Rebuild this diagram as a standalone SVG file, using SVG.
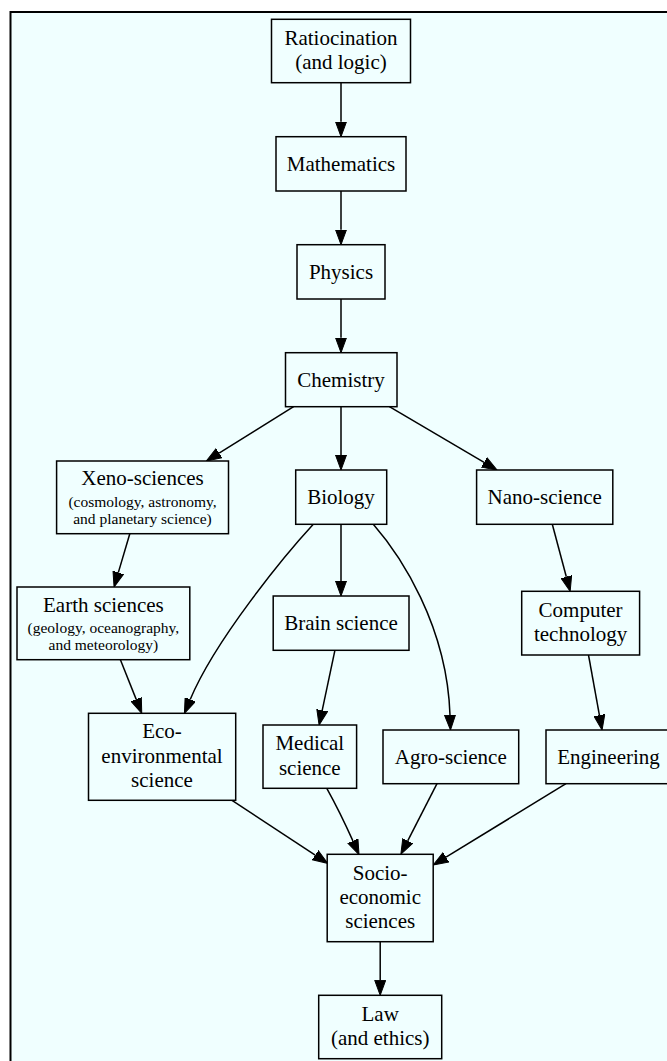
<svg xmlns="http://www.w3.org/2000/svg" width="667" height="1061" viewBox="0 0 667 1061">
<defs>
<style>
.bg{fill:#F0FFFF;stroke:#000;stroke-width:2}
.box{fill:#F0FFFF;stroke:#000;stroke-width:1.5}
text{font-family:'Liberation Serif','Times New Roman',Times,'DejaVu Serif',serif;fill:#000;text-anchor:middle}
.t{font-size:21px}
.s{font-size:15.5px}
.e{fill:none;stroke:#000;stroke-width:1.5;marker-end:url(#ah)}
</style>
<marker id="ah" markerUnits="userSpaceOnUse" markerWidth="16" markerHeight="12" refX="0" refY="5.5" orient="auto" viewBox="0 -0.25 16 11.5">
<path d="M0,0 L15,5.5 L0,11 z" fill="#000" stroke="#000" stroke-width="1"/>
</marker>
</defs>
<rect x="0" y="0" width="667" height="1061" fill="#fff"/>
<rect class="bg" x="10.5" y="12" width="720" height="1100"/>

<g id="edges">
<path class="e" d="M341,82.7 L341,121.7"/>
<path class="e" d="M341,191 L341,229.7"/>
<path class="e" d="M341,299 L341,337.7"/>
<path class="e" d="M293.6,406.7 L219.1,453.1"/>
<path class="e" d="M341,406.7 L341,455"/>
<path class="e" d="M389.4,406.7 L484.1,462.4"/>
<path class="e" d="M129.8,533.7 L118.3,572.6"/>
<path class="e" d="M341,524.3 L341,581"/>
<path class="e" d="M313.3,524.3 C285,555 215,640 190.2,699.5"/>
<path class="e" d="M373.3,524.3 C400,555 447,625 450,715"/>
<path class="e" d="M552.3,524.3 L566.3,576.8"/>
<path class="e" d="M120.4,659.7 L136.2,699.4"/>
<path class="e" d="M334.9,650.3 L322.2,710.3"/>
<path class="e" d="M588.5,655 L599.4,715.2"/>
<path class="e" d="M232,800.3 L315.2,855.1"/>
<path class="e" d="M326.8,788.3 Q340,812 352.9,840.9"/>
<path class="e" d="M437,783.7 L407.7,840.9"/>
<path class="e" d="M566,783.7 L446,857.2"/>
<path class="e" d="M380.2,941.7 L380.2,980.3"/>
</g>

<g id="ratiocination">
<rect class="box" x="271.5" y="19.3" width="139" height="63.4"/>
<text class="t" x="341" y="44.5" font-family="Liberation Serif">Ratiocination</text>
<text class="t" x="341" y="68.5" font-family="Liberation Serif">(and logic)</text>
</g>
<g id="mathematics">
<rect class="box" x="276" y="136.7" width="130" height="54.3"/>
<text class="t" x="341" y="170.8">Mathematics</text>
</g>
<g id="physics">
<rect class="box" x="297" y="244.7" width="88" height="54.3"/>
<text class="t" x="341" y="278.8">Physics</text>
</g>
<g id="chemistry">
<rect class="box" x="285.5" y="352.7" width="111.5" height="54"/>
<text class="t" x="341" y="386.7">Chemistry</text>
</g>
<g id="xeno">
<rect class="box" x="56.6" y="461" width="171.9" height="72.7"/>
<text class="t" x="142.5" y="485.3">Xeno-sciences</text>
<text class="s" x="142.5" y="506.5">(cosmology, astronomy,</text>
<text class="s" x="142.5" y="523.5">and planetary science)</text>
</g>
<g id="biology">
<rect class="box" x="295.7" y="470" width="91" height="54.3"/>
<text class="t" x="341" y="504.2">Biology</text>
</g>
<g id="nano">
<rect class="box" x="476.6" y="470" width="136.2" height="54.3"/>
<text class="t" x="544.7" y="504.2">Nano-science</text>
</g>
<g id="earth">
<rect class="box" x="17" y="587" width="172.8" height="72.7"/>
<text class="t" x="103.4" y="611.5">Earth sciences</text>
<text class="s" x="103.4" y="633">(geology, oceanography,</text>
<text class="s" x="103.4" y="650">and meteorology)</text>
</g>
<g id="brain">
<rect class="box" x="273.2" y="596" width="135.8" height="54.3"/>
<text class="t" x="341" y="630.2">Brain science</text>
</g>
<g id="computer">
<rect class="box" x="521.7" y="591.3" width="117.9" height="63.7"/>
<text class="t" x="580.6" y="617">Computer</text>
<text class="t" x="580.6" y="641">technology</text>
</g>
<g id="eco">
<rect class="box" x="88.5" y="713.3" width="147.2" height="87"/>
<text class="t" x="162" y="738.3">Eco-</text>
<text class="t" x="162" y="763">environmental</text>
<text class="t" x="162" y="787">science</text>
</g>
<g id="medical">
<rect class="box" x="263" y="725" width="93.6" height="63.3"/>
<text class="t" x="309.8" y="750">Medical</text>
<text class="t" x="309.8" y="775">science</text>
</g>
<g id="agro">
<rect class="box" x="383" y="730" width="135.7" height="53.7"/>
<text class="t" x="450.8" y="763.8">Agro-science</text>
</g>
<g id="engineering">
<rect class="box" x="546" y="730" width="125" height="53.7"/>
<text class="t" x="608.5" y="763.8">Engineering</text>
</g>
<g id="socio">
<rect class="box" x="327.2" y="854.3" width="106" height="87.4"/>
<text class="t" x="380.2" y="879.5">Socio-</text>
<text class="t" x="380.2" y="903.8">economic</text>
<text class="t" x="380.2" y="928.3">sciences</text>
</g>
<g id="law">
<rect class="box" x="318.7" y="995.3" width="123" height="63.4"/>
<text class="t" x="380.2" y="1020.5">Law</text>
<text class="t" x="380.2" y="1044.5">(and ethics)</text>
</g>
</svg>
